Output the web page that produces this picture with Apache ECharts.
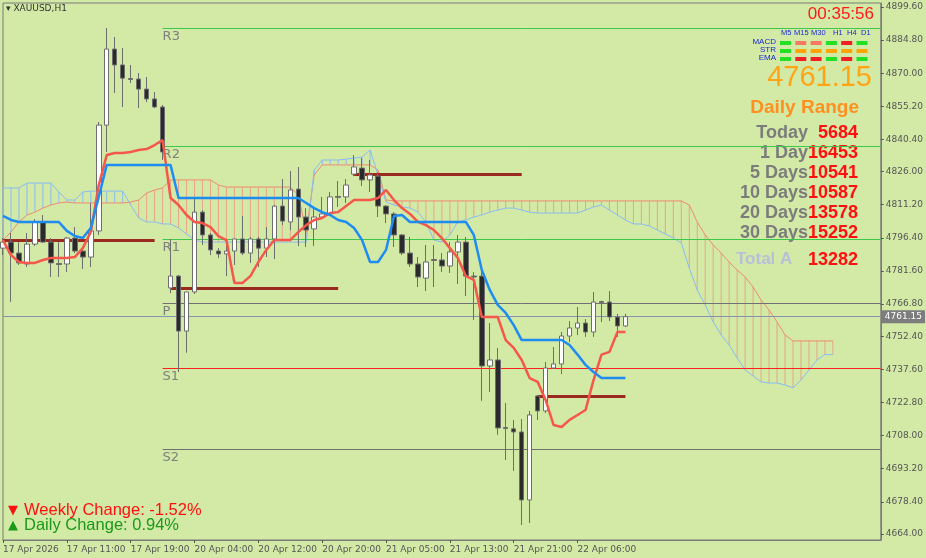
<!DOCTYPE html>
<html><head><meta charset="utf-8">
<script src="https://cdn.jsdelivr.net/npm/echarts@6/dist/echarts.min.js"></script>
<style>html,body{margin:0;padding:0;background:#d3e9a6}#c{width:926px;height:558px}</style>
</head><body><div id="c"></div>
<script>
// OHLC as [open, close, low, high]
const candles = [
[4791.8,4794.5,4788.7,4796.3],[4794.5,4789.6,4767.7,4798.6],[4789.6,4785.2,4784.3,4794.5],[4784.7,4793.6,4783.4,4798.6],
[4793.6,4803.5,4792.7,4804.8],[4803.5,4794.5,4794.1,4806.6],[4794.5,4785.2,4778.9,4796.3],[4784.9,4784.5,4778.9,4794.5],
[4784.7,4796.3,4781.1,4796.8],[4796.3,4790.5,4789.6,4801.2],[4790.5,4787.8,4782.5,4792.3],[4787.8,4799.5,4783.4,4812.0],
[4799.5,4846.8,4797.7,4848.2],[4846.8,4880.8,4834.8,4890.2],[4880.8,4873.7,4861.2,4886.2],[4873.7,4867.8,4854.9,4881.3],
[4867.6,4867.2,4865.6,4873.7],[4867.4,4862.9,4854.4,4870.1],[4862.9,4858.5,4857.1,4868.3],[4858.5,4854.9,4854.4,4861.6],
[4854.9,4834.8,4831.2,4855.8],[4774.0,4779.3,4771.7,4795.9],[4779.3,4754.7,4736.4,4779.8],[4754.7,4772.2,4745.0,4772.2],
[4772.2,4807.9,4771.3,4814.7],[4807.9,4797.7,4793.2,4808.8],[4797.7,4791.0,4788.7,4798.6],[4790.5,4789.2,4787.4,4791.8],
[4789.2,4790.5,4779.3,4795.4],[4790.5,4795.9,4784.3,4795.9],[4795.9,4789.6,4788.7,4806.2],[4789.6,4795.9,4785.2,4796.8],
[4795.9,4791.8,4783.4,4796.8],[4791.8,4795.9,4787.8,4801.2],[4795.9,4810.6,4786.9,4811.1],[4810.6,4803.9,4802.1,4822.7],
[4803.5,4817.8,4799.9,4826.3],[4818.2,4805.7,4792.7,4828.1],[4805.7,4799.9,4792.3,4809.7],[4800.4,4805.7,4792.7,4810.2],
[4805.7,4807.1,4805.3,4814.7],[4807.1,4814.7,4806.6,4816.9],[4814.9,4814.5,4810.2,4821.8],[4814.7,4820.0,4812.0,4822.7],
[4824.9,4828.1,4824.0,4833.4],[4827.6,4822.3,4819.6,4832.1],[4822.3,4824.5,4816.9,4831.2],[4824.0,4810.6,4805.7,4825.8],
[4810.6,4807.1,4803.0,4811.1],[4807.1,4797.7,4792.3,4807.9],[4797.7,4789.6,4788.7,4798.1],[4789.6,4784.7,4783.4,4796.8],
[4784.7,4778.9,4774.4,4787.8],[4778.4,4785.6,4772.6,4793.2],[4786.7,4786.3,4774.4,4793.2],[4786.5,4783.8,4781.1,4789.6],
[4783.8,4790.1,4780.7,4794.5],[4790.1,4794.5,4775.8,4797.7],[4794.5,4779.3,4770.4,4796.8],[4779.3,4778.9,4759.7,4781.1],
[4779.3,4739.1,4723.5,4782.9],[4739.1,4741.8,4727.5,4758.3],[4741.8,4711.4,4708.3,4747.2],[4711.6,4711.2,4697.1,4722.6],
[4711.0,4709.6,4692.2,4715.0],[4709.6,4679.2,4668.0,4715.4],[4679.2,4717.2,4668.9,4719.0],[4725.7,4719.0,4715.0,4726.1],
[4719.0,4738.2,4718.1,4740.9],[4738.2,4740.0,4737.8,4747.6],[4740.0,4752.5,4735.5,4754.3],[4752.5,4756.1,4749.8,4759.2],
[4756.1,4758.3,4752.9,4765.5],[4758.3,4754.3,4752.1,4760.1],[4754.3,4767.7,4752.1,4772.2],[4767.9,4767.5,4758.8,4768.3],
[4767.7,4761.0,4759.2,4772.6],[4761.0,4757.0,4752.1,4762.4],[4757.0,4761.15,4756.6,4762.4]
];
const tenkan = [4795.4,4788.7,4785.6,4785.2,4785.2,4786.5,4787.4,4787.4,4787.4,4787.8,4791.8,4799.0,4820.0,4833.4,4834.3,4834.3,
4834.8,4835.7,4836.1,4837.9,4840.1,4814.2,4811.1,4806.6,4803.5,4803.0,4801.2,4797.2,4795.4,4776.2,4776.2,4779.3,4785.6,4791.0,
4795.4,4795.4,4795.4,4799.0,4802.1,4804.4,4805.3,4807.5,4807.9,4810.6,4813.3,4813.3,4813.3,4814.2,4817.8,4813.3,4809.7,4807.1,
4803.5,4802.1,4799.9,4796.3,4791.8,4787.4,4779.3,4777.6,4761.0,4761.0,4761.0,4750.7,4747.2,4741.8,4733.7,4732.0,4723.9,4712.7,
4711.8,4715.0,4717.2,4719.4,4732.8,4744.2,4745.4,4754.3,4754.3];
const kijun = [4806.2,4804.4,4803.5,4803.5,4803.5,4803.5,4803.5,4803.5,4799.5,4797.2,4796.3,4800.8,4814.7,
4829.0,4829.0,4829.0,4829.0,4829.0,4829.0,4829.0,4829.0,4829.0,
4814.2,4814.2,4814.2,4814.2,4814.2,4814.2,4814.2,4814.2,4814.2,4814.2,4814.2,4814.2,4814.2,4814.2,4814.2,4814.2,
4812.0,4809.7,4807.9,4806.6,4804.4,4803.5,4800.8,4795.4,4785.6,4785.6,4791.0,4806.2,4806.6,
4803.5,4803.5,4803.5,4803.5,4803.5,4803.5,4803.5,4803.5,4797.7,4782.0,4773.1,4766.4,4762.8,4757.4,
4750.7,4750.7,4750.7,4750.7,4750.7,4750.7,4748.5,4744.2,4739.6,4736.4,4733.7,4733.7,4733.7,4733.7];
const spanBlue = [4818.7,4818.7,4818.7,4820.9,4820.9,4820.9,4820.9,4816.9,4813.3,4813.3,4816.9,4817.3,4817.3,4817.3,4817.3,4817.3,
4811.1,4805.3,4803.5,4803.5,4802.6,4802.6,4800.8,4798.1,4795.4,
4794.5,4794.5,4794.5,4794.5,4794.5,4794.5,4794.5,4794.5,4794.5,4794.5,4794.5,4794.5,4794.5,4794.5,
4826.7,4831.2,4831.2,4831.2,4831.6,4832.1,4832.5,4835.7,4824.5,4812.4,4811.1,4810.2,4809.7,4807.9,4803.5,4795.4,4794.5,
4797.7,4803.5,4804.4,4805.7,4806.6,4807.9,4808.8,4809.7,4809.7,4808.8,4807.9,4807.5,4807.5,4807.5,4807.5,4807.5,4807.5,
4808.8,4810.2,4811.1,4808.8,4806.6,4804.4,4802.6,4802.6,4801.7,4799.9,4798.1,4796.3,4794.1,4782.9,4773.1,4766.4,4758.8,
4753.0,4748.5,4742.7,4737.3,4734.6,4732.0,4731.5,4731.5,4730.6,4729.3,4732.8,4737.3,4741.8,4744.2,4744.2];
const spanRed = [4795.4,4799.0,4803.5,4806.6,4807.9,4809.7,4811.1,4812.0,4812.4,4812.0,4812.0,4812.0,4812.0,4812.0,4812.0,4812.0,
4812.4,4813.3,4816.4,4817.8,4818.7,4822.3,4822.3,4822.3,4822.3,4822.3,4822.3,4820.0,
4819.1,4819.1,4819.1,4819.1,4819.1,4819.1,4819.1,4819.1,4819.1,4815.6,4799.0,4824.5,
4829.0,4829.0,4829.0,4829.0,4829.0,4829.0,4829.0,4826.7,4813.3,
4812.9,4812.9,4812.9,4812.9,4812.9,4812.9,4812.9,4812.9,4812.9,4812.9,4812.9,4812.9,4812.9,4812.9,4812.9,4812.9,4812.9,4812.9,4812.9,
4812.9,4812.9,4812.9,4812.9,4812.9,4812.9,4812.9,4812.9,4812.9,4812.9,4812.9,4812.9,4812.9,4812.9,4812.9,4812.9,4812.9,4812.9,
4811.1,4803.5,4797.7,4793.2,4789.6,4785.6,4782.0,4778.9,4774.4,4768.6,4764.1,4758.8,4753.0,4750.3,4750.3,4750.3,4750.3,4750.3,4750.3];
const pivots = [['R3',4890.2,'#3cc84a'],['R2',4837.5,'#3cc84a'],['R1',4795.9,'#3cc84a'],['P',4767.3,'#707070'],['S1',4738.2,'#ff2020'],['S2',4702.0,'#707070']];
const levels = [[0,19,4795.4],[21,42,4774.0],[44,65,4824.9],[67,78,4725.7]];
const lastPrice = 4761.15;
const yTicks = [4899.60,4884.80,4870.00,4855.20,4840.40,4826.00,4811.20,4796.40,4781.60,4766.80,4752.40,4737.60,4722.80,4708.00,4693.20,4678.40,4664.00];
const xLabels = {0:'17 Apr 2026',8:'17 Apr 11:00',16:'17 Apr 19:00',24:'20 Apr 04:00',32:'20 Apr 12:00',40:'20 Apr 20:00',48:'21 Apr 05:00',56:'21 Apr 13:00',64:'21 Apr 21:00',72:'22 Apr 06:00'};
const ranges = [['Today','5684'],['1 Day','16453'],['5 Days','10541'],['10 Days','10587'],['20 Days','13578'],['30 Days','15252']];
const mtfCols = ['M5','M15','M30','H1','H4','D1'];
const mtfRows = [['MACD',['#22e022','#f87860','#f87860','#22e022','#f02020','#22e022']],['STR',['#22e022','#ffa500','#ffa500','#ffa500','#ffa500','#ffa500']],['EMA',['#22e022','#f02020','#f02020','#22e022','#f02020','#22e022']]];

const N = 111;
const cats = Array.from({length:N},(_,i)=>String(i));
const chart = echarts.init(document.getElementById('c'));
const hatch = spanBlue.map((b,i)=>[i,spanRed[i],b]);
const colX = [781,794,811,833,847,861];
const graphics = [
 {type:'text',left:6,top:4,style:{text:'▾ XAUUSD,H1',font:'9px DejaVu Sans',fill:'#333'}},
 {type:'text',right:52,top:6,style:{text:'00:35:56',font:'17px "Liberation Sans"',fill:'#ff1a1a'}},
 {type:'text',right:54,top:63,style:{text:'4761.15',font:'29px "Liberation Sans"',fill:'#ffa515'}},
 {type:'text',right:67,top:98,style:{text:'Daily Range',font:'bold 19px "Liberation Sans"',fill:'#ff9020'}},
 {type:'text',left:736,top:251,style:{text:'Total A',font:'bold 17px "Liberation Sans"',fill:'#b8c0d8'}},
 {type:'text',right:68,top:251,style:{text:'13282',font:'bold 18px "Liberation Sans"',fill:'#ff1010'}},
 {type:'text',left:8,top:504,style:{text:'▼',font:'13px DejaVu Sans',fill:'#ff1010'}},
 {type:'text',left:24,top:502,style:{text:'Weekly Change: -1.52%',font:'16.5px "Liberation Sans"',fill:'#ff1010'}},
 {type:'text',left:8,top:519,style:{text:'▲',font:'13px DejaVu Sans',fill:'#1a9a1a'}},
 {type:'text',left:24,top:517,style:{text:'Daily Change: 0.94%',font:'16.5px "Liberation Sans"',fill:'#1a9a1a'}}
];
ranges.forEach((r,k)=>{
 graphics.push({type:'text',right:118,top:124+k*20,style:{text:r[0],font:'bold 18px "Liberation Sans"',fill:'#7c7c7c'}});
 graphics.push({type:'text',right:68,top:124+k*20,style:{text:r[1],font:'bold 18px "Liberation Sans"',fill:'#ff1010'}});
});
mtfCols.forEach((c,j)=>graphics.push({type:'text',left:colX[j],top:29,style:{text:c,font:'7.5px "Liberation Sans"',fill:'#1428d8'}}));
mtfRows.forEach((r,k)=>{
 graphics.push({type:'text',right:150,top:38+k*8,style:{text:r[0],font:'8px "Liberation Sans"',fill:'#1428d8'}});
 r[1].forEach((col,j)=>graphics.push({type:'rect',shape:{x:780+j*15.3,y:41+k*8,width:11,height:4},style:{fill:col}}));
});
chart.setOption({
 backgroundColor:'#d3e9a6',animation:false,
 grid:{left:3,right:44,top:3,bottom:18,show:true,borderColor:'#7a7a7a',borderWidth:1},
 xAxis:{type:'category',data:cats,boundaryGap:false,
  axisLine:{lineStyle:{color:'#7a7a7a'}},
  axisTick:{interval:(i)=>xLabels[i]!==undefined,length:3,lineStyle:{color:'#555'}},
  axisLabel:{interval:0,align:'left',margin:5,fontSize:9,fontFamily:'DejaVu Sans',color:'#555',formatter:(v,i)=>xLabels[i]||''},
  splitLine:{show:false}},
 yAxis:{type:'value',position:'right',min:4661.3,max:4901.4,scale:true,
  axisLine:{show:true,lineStyle:{color:'#7a7a7a'}},
  axisTick:{show:true,customValues:yTicks,length:3,lineStyle:{color:'#555'}},
  axisLabel:{customValues:yTicks,fontSize:9,fontFamily:'DejaVu Sans',color:'#555',margin:5,formatter:v=>v.toFixed(2)},
  splitLine:{show:false}},
 graphic:graphics,
 series:[
  {type:'custom',data:hatch,z:1,renderItem:(p,api)=>{const i=api.value(0),a=api.value(1),b=api.value(2);
    const p1=api.coord([i,a]),p2=api.coord([i,b]);
    return {type:'line',shape:{x1:p1[0],y1:p1[1],x2:p2[0],y2:p2[1]},style:{stroke:a>b?'#e8a58a':'#8cbcf0',lineWidth:1}};}},
  {type:'line',data:spanRed,symbol:'none',z:2,lineStyle:{color:'#f08a70',width:1}},
  {type:'line',data:spanBlue,symbol:'none',z:2,lineStyle:{color:'#88bcf4',width:1}},
  {type:'line',data:[],symbol:'none',z:3,markLine:{symbol:'none',silent:true,
    data:pivots.map(p=>[{coord:[20,p[1]],lineStyle:{color:p[2],width:1,type:'solid'},label:{show:true,formatter:p[0],position:'insideStartBottom',color:'#808080',fontSize:13,fontFamily:'DejaVu Sans',distance:[0,2]}},{coord:[N-1,p[1]]}])
     .concat([[{coord:[0,lastPrice],lineStyle:{color:'#8494b0',width:1,type:'solid'},label:{show:true,position:'end',formatter:lastPrice.toFixed(2),backgroundColor:'#7d7d7d',color:'#fff',fontSize:9,fontFamily:'DejaVu Sans',padding:[2,3],distance:1}},{coord:[N-1,lastPrice]}]])
     .concat(levels.map(l=>[{coord:[l[0],l[2]],lineStyle:{color:'#9a2a20',width:3,type:'solid'},label:{show:false}},{coord:[l[1],l[2]]}]))}},
  {type:'candlestick',data:candles,barWidth:5,z:5,itemStyle:{color:'#ffffff',color0:'#2a2a2a',borderColor:'#6e6e6e',borderColor0:'#6e6e6e',borderWidth:1}},
  {type:'line',data:tenkan,symbol:'none',z:6,lineStyle:{color:'#f5584a',width:2.5}},
  {type:'line',data:kijun,symbol:'none',z:6,lineStyle:{color:'#1e8cf0',width:2.5}}
 ]
});
</script></body></html>
